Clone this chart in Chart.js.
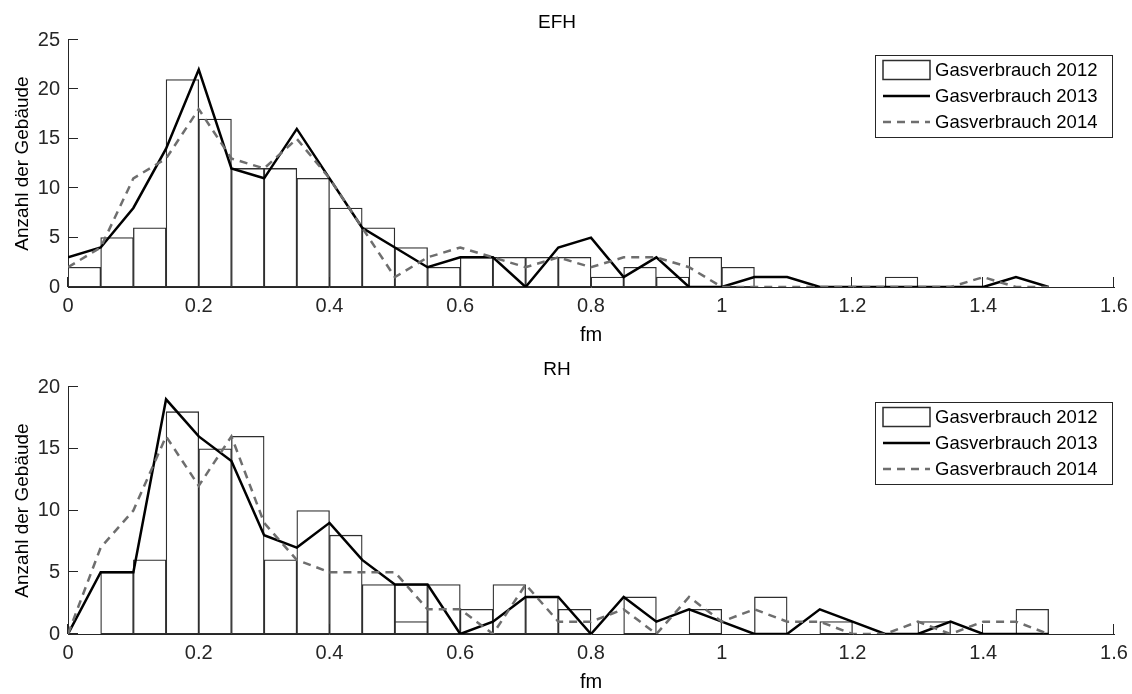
<!DOCTYPE html>
<html>
<head>
<meta charset="utf-8">
<title>Gasverbrauch EFH / RH</title>
<script src="https://cdn.jsdelivr.net/npm/chart.js@4.4.1/dist/chart.umd.min.js"></script>
<style>
  html, body { margin: 0; padding: 0; background: #fff; }
  canvas { display: block; }
</style>
</head>
<body>
<canvas id="efh" width="1132" height="347"></canvas>
<canvas id="rh" width="1132" height="347"></canvas>
<script>
// Klassengrenzen fm (Bins à 0.05) und Achsenbeschriftung
const fmEdges = [0, 0.05, 0.1, 0.15, 0.2, 0.25, 0.3, 0.35, 0.4, 0.45, 0.5, 0.55, 0.6, 0.65, 0.7, 0.75,
                 0.8, 0.85, 0.9, 0.95, 1, 1.05, 1.1, 1.15, 1.2, 1.25, 1.3, 1.35, 1.4, 1.45, 1.5];
const fmTicks = [0, 0.2, 0.4, 0.6, 0.8, 1, 1.2, 1.4, 1.6];
const efhCountTicks = [0, 5, 10, 15, 20, 25];
const rhCountTicks = [0, 5, 10, 15, 20];
const seriesLabels = ['Gasverbrauch 2012', 'Gasverbrauch 2013', 'Gasverbrauch 2014'];

// EFH: Histogramm 2012 (30 Bins), Kurven 2013/2014 an den Klassengrenzen
const efh2012 = [2, 5, 6, 21, 17, 12, 12, 11, 8, 6, 4, 2, 3, 3, 3, 3, 1, 2, 1, 3, 2, 0, 0, 0, 0, 1, 0, 0, 0, 0];
const efh2013 = [3, 4, 8, 14, 22, 12, 11, 16, 11, 6, 4, 2, 3, 3, 0, 4, 5, 1, 3, 0, 0, 1, 1, 0, 0, 0, 0, 0, 0, 1, 0];
const efh2014 = [2, 4, 11, 13, 18, 13, 12, 15, 11, 6, 1, 3, 4, 3, 2, 3, 2, 3, 3, 2, 0, 0, 0, 0, 0, 0, 0, 0, 1, 0, 0];

// RH
const rh2012 = [0, 5, 6, 18, 15, 16, 6, 10, 8, 4, 4, 4, 2, 4, 3, 2, 0, 3, 0, 2, 0, 3, 0, 1, 0, 0, 1, 0, 0, 2];
// zweiter Balken im Bin 0.5-0.55
const rh2012Inner = [null, null, null, null, null, null, null, null, null, null, 1, null, null, null, null,
                     null, null, null, null, null, null, null, null, null, null, null, null, null, null, null];
const rh2013 = [0, 5, 5, 19, 16, 14, 8, 7, 9, 6, 4, 4, 0, 1, 3, 3, 0, 3, 1, 2, 1, 0, 0, 2, 1, 0, 0, 1, 0, 0, 0];
const rh2014 = [0, 7, 10, 16, 12, 16, 9, 6, 5, 5, 5, 2, 2, 0, 4, 1, 1, 2, 0, 3, 1, 2, 1, 1, 0, 0, 1, 0, 1, 1, 0];

const FONT = '"Liberation Sans", Arial, sans-serif';
const AXIS_COLOR = '#262626';
Chart.defaults.font.family = FONT;
Chart.defaults.color = AXIS_COLOR;

const barPoints = counts => counts.map((c, i) => ({ x: (fmEdges[i] + fmEdges[i + 1]) / 2, y: c }));
const linePoints = counts => counts.map((c, i) => ({ x: fmEdges[i], y: c }));

// Ticks nach innen wie im Matlab-Plot
const innerTicks = {
    id: 'innerTicks',
    beforeDatasetsDraw(chart) {
        const { ctx, chartArea, scales: { x, y } } = chart;
        ctx.save();
        ctx.strokeStyle = AXIS_COLOR;
        ctx.lineWidth = 1;
        ctx.beginPath();
        x.ticks.forEach(t => {
            const px = Math.round(x.getPixelForValue(t.value)) - 0.5;
            ctx.moveTo(px, chartArea.bottom);
            ctx.lineTo(px, chartArea.bottom - 10);
        });
        y.ticks.forEach(t => {
            const py = Math.round(y.getPixelForValue(t.value)) - 0.5;
            ctx.moveTo(chartArea.left, py);
            ctx.lineTo(chartArea.left + 10, py);
        });
        ctx.stroke();
        ctx.restore();
    }
};

// Legende mit Rahmen oben rechts im Plotbereich
const boxLegend = {
    id: 'boxLegend',
    afterDraw(chart) {
        const { ctx, chartArea } = chart;
        const right = chartArea.right - 2;
        const left = right - 237;
        const top = chartArea.top + 15;
        const height = 82;
        ctx.save();
        ctx.fillStyle = '#fff';
        ctx.fillRect(left, top, right - left, height);
        ctx.strokeStyle = AXIS_COLOR;
        ctx.lineWidth = 1;
        ctx.strokeRect(Math.round(left) + 0.5, Math.round(top) + 0.5, right - left, height);

        ctx.font = '18.5px ' + FONT;
        ctx.textBaseline = 'middle';
        chart.data.datasets.filter(ds => ds.label).forEach((ds, i) => {
            const cy = top + 15 + i * 26;
            if (ds.type === 'bar') {
                ctx.fillStyle = ds.backgroundColor;
                ctx.strokeStyle = ds.borderColor;
                ctx.lineWidth = 1.5;
                ctx.setLineDash([]);
                ctx.fillRect(left + 8, cy - 9.5, 47, 19);
                ctx.strokeRect(left + 8, cy - 9.5, 47, 19);
            } else {
                ctx.strokeStyle = ds.borderColor;
                ctx.lineWidth = ds.borderWidth;
                ctx.setLineDash(ds.borderDash || []);
                ctx.beginPath();
                ctx.moveTo(left + 8, cy);
                ctx.lineTo(left + 55, cy);
                ctx.stroke();
            }
            ctx.setLineDash([]);
            ctx.fillStyle = '#000';
            ctx.fillText(ds.label, left + 60, cy + 1);
        });
        ctx.restore();
    }
};

function makeChart(id, title, yMax, yTicks, bars, innerBars, line2013, line2014) {
    const datasets = [{
        type: 'bar',
        label: seriesLabels[0],
        data: barPoints(bars),
        backgroundColor: '#ffffff',
        borderColor: '#2e2e2e',
        borderWidth: 1.3,
        borderSkipped: false,
        barPercentage: 1,
        categoryPercentage: 1,
        grouped: false,
        order: 4
    }];
    if (innerBars) {
        datasets.push({
            type: 'bar',
            data: barPoints(innerBars),
            backgroundColor: '#ffffff',
            borderColor: '#2e2e2e',
            borderWidth: 1.3,
            borderSkipped: false,
            barPercentage: 1,
            categoryPercentage: 1,
            grouped: false,
            order: 3
        });
    }
    datasets.push({
        type: 'line',
        label: seriesLabels[1],
        data: linePoints(line2013),
        borderColor: '#000000',
        borderWidth: 2.5,
        pointRadius: 0,
        tension: 0,
        order: 2
    }, {
        type: 'line',
        label: seriesLabels[2],
        data: linePoints(line2014),
        borderColor: '#6e6e6e',
        borderWidth: 2.5,
        borderDash: [8, 6],
        pointRadius: 0,
        tension: 0,
        order: 1
    });

    return new Chart(document.getElementById(id), {
        type: 'bar',
        data: { datasets },
        options: {
            responsive: false,
            animation: false,
            layout: { padding: { left: 0, right: 18, top: 0, bottom: 0 } },
            plugins: {
                legend: { display: false },
                tooltip: { enabled: false },
                title: {
                    display: true,
                    text: title,
                    color: '#000',
                    font: { size: 19, weight: 'normal' },
                    padding: { top: 11, bottom: 6.2 }
                }
            },
            scales: {
                x: {
                    type: 'linear',
                    min: 0,
                    max: 1.6,
                    offset: false,
                    afterBuildTicks: s => { s.ticks = fmTicks.map(v => ({ value: v })); },
                    afterFit: s => { s.height = 60; },
                    grid: { display: false, drawTicks: false },
                    border: { display: true, color: AXIS_COLOR, width: 1 },
                    ticks: {
                        // Abstand zur Achse über die Zeilenhöhe, damit rechts kein Zusatzrand entsteht
                        padding: 0,
                        font: { size: 20, lineHeight: 1.9 },
                        maxRotation: 0,
                        autoSkip: false,
                        callback: v => String(v)
                    },
                    title: { display: true, text: 'fm', color: '#000', font: { size: 20 }, padding: { top: 0, bottom: 0 } }
                },
                y: {
                    min: 0,
                    max: yMax,
                    afterBuildTicks: s => { s.ticks = yTicks.map(v => ({ value: v })); },
                    afterFit: s => { s.width = 68; },
                    grid: { display: false, drawTicks: false },
                    border: { display: true, color: AXIS_COLOR, width: 1 },
                    ticks: { padding: 8, font: { size: 20 } },
                    title: { display: true, text: 'Anzahl der Gebäude', color: '#000', font: { size: 19 }, padding: { top: 11, bottom: 0 } }
                }
            }
        },
        plugins: [innerTicks, boxLegend]
    });
}

makeChart('efh', 'EFH', 25, efhCountTicks, efh2012, null, efh2013, efh2014);
makeChart('rh', 'RH', 20, rhCountTicks, rh2012, rh2012Inner, rh2013, rh2014);
</script>
</body>
</html>
